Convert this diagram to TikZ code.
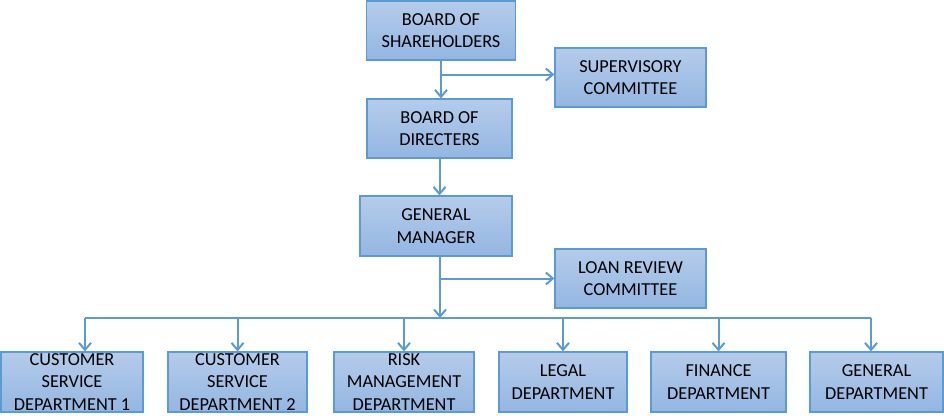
\documentclass[tikz,border=0pt]{standalone}
\usepackage{fontspec}
\setmainfont{Carlito}
\usepackage{tikz}
\usetikzlibrary{arrows.meta}
\definecolor{boxtop}{RGB}{181,204,234}
\definecolor{boxbottom}{RGB}{147,182,226}
\definecolor{boxline}{RGB}{91,155,213}
\tikzstyle{process} = [rectangle, minimum height=59pt, inner sep=0pt, align=center, text centered, draw=boxline, line width=1.2pt, top color=boxtop, bottom color=boxbottom, font=\fontsize{18.3}{22.3}\selectfont]
\tikzstyle{arrow} = [draw=boxline, line width=2pt, -{Straight Barb[length=7pt,width=12pt]}]
\tikzstyle{line} = [draw=boxline, line width=2pt]

\begin{document}
\begin{tikzpicture}[x=1pt,y=-1pt]
\useasboundingbox (0,0) rectangle (944,415);

\node (share) [process, minimum width=149pt] at (441,30.5) {BOARD OF\\SHAREHOLDERS};
\node (super) [process, minimum width=151pt] at (630.5,77.5) {SUPERVISORY\\COMMITTEE};
\node (direct) [process, minimum width=145pt] at (439.5,128.5) {BOARD OF\\DIRECTERS};
\node (manager) [process, minimum width=152pt, minimum height=60pt] at (436,226) {GENERAL\\MANAGER};
\node (loan) [process, minimum width=151pt] at (630.5,278.5) {LOAN REVIEW\\COMMITTEE};

\node (cust1) [process, minimum width=142pt, minimum height=60pt] at (72,382) {CUSTOMER\\SERVICE\\DEPARTMENT 1};
\node (cust2) [process, minimum width=139pt, minimum height=60pt] at (237.5,382) {CUSTOMER\\SERVICE\\DEPARTMENT 2};
\node (risk) [process, minimum width=140pt, minimum height=60pt] at (404,382) {RISK\\MANAGEMENT\\DEPARTMENT};
\node (legal) [process, minimum width=128pt, minimum height=60pt] at (563,382) {LEGAL\\DEPARTMENT};
\node (finance) [process, minimum width=135pt, minimum height=60pt] at (718.5,382) {FINANCE\\DEPARTMENT};
\node (general) [process, minimum width=133pt, minimum height=60pt] at (876.5,382) {GENERAL\\DEPARTMENT};

\coordinate (bus) at (440,318);

\draw [arrow] (share.south) -- (share.south |- direct.north);
\draw [arrow] ([yshift=3pt]share.south |- super.west) -- ([yshift=3pt]super.west);
\draw [arrow] (direct.south) -- (direct.south |- manager.north);
\draw [arrow] ([xshift=4pt]manager.south) -- ([xshift=4pt]manager.south |- bus);
\draw [arrow] ([xshift=4pt]manager.south |- loan.west) -- (loan.west);

\draw [line] ([xshift=13pt]cust1.north |- bus) -- ([xshift=-5.5pt]general.north |- bus);
\draw [arrow] ([xshift=13pt]cust1.north |- bus) -- ([xshift=13pt]cust1.north);
\draw [arrow] (cust2.north |- bus) -- (cust2.north);
\draw [arrow] (risk.north |- bus) -- (risk.north);
\draw [arrow] (legal.north |- bus) -- (legal.north);
\draw [arrow] (finance.north |- bus) -- (finance.north);
\draw [arrow] ([xshift=-5.5pt]general.north |- bus) -- ([xshift=-5.5pt]general.north);

\end{tikzpicture}
\end{document}
